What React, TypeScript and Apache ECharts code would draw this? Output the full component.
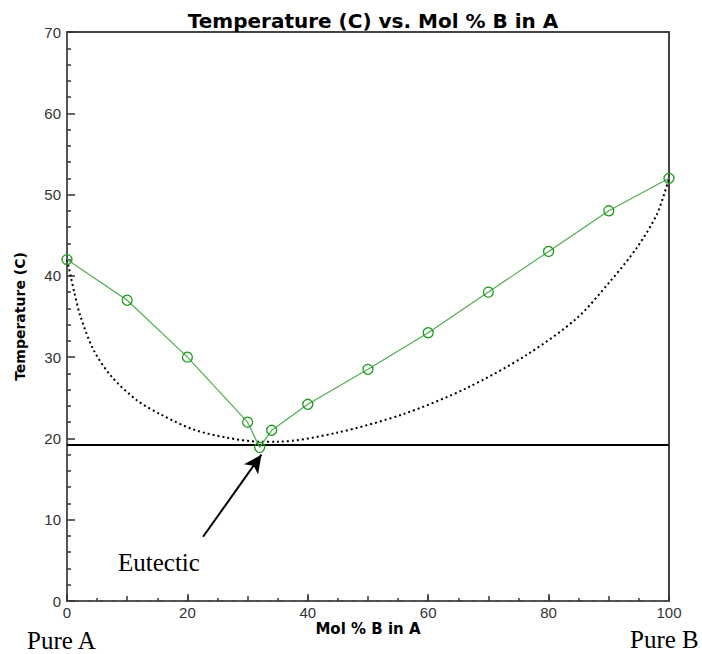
import React, { useEffect, useRef } from "react";
import * as echarts from "echarts";

const molB = [0, 10, 20, 30, 32, 34, 40, 50, 60, 70, 80, 90, 100];
const tempC = [42, 37, 30, 22, 18.9, 21, 24.2, 28.5, 33, 38, 43, 48, 52];

const idealX = [0, 0.6, 1.2, 2.2, 4.4, 7.4, 11.6, 15.7, 21, 26.5, 32, 35, 44.8, 55.9, 66.4, 76.4, 84.7, 90.2, 94.6, 98, 100];
const idealY = [42, 40, 38, 35.1, 30.9, 27.6, 24.7, 22.9, 21.1, 20.1, 19.6, 19.6, 20.7, 23, 26.2, 30.3, 34.8, 39.3, 43.4, 47.6, 52];

const eutecticT = 19.2;
const arrowFrom = [22.6, 7.9];
const arrowTo = [32.3, 18.0];

const xTicks = [0, 20, 40, 60, 80, 100];
const yTicks = [0, 10, 20, 30, 40, 50, 60, 70];

export default function App() {
  const ref = useRef<HTMLDivElement>(null);
  useEffect(() => {
    if (!ref.current) return;
    const chart = echarts.init(ref.current, null, { renderer: "svg" });
    const sans = "DejaVu Sans";
    const labelFont = "Liberation Sans";
    chart.setOption({
      animation: false,
      backgroundColor: "#fff",
      title: {
        text: "Temperature (C) vs. Mol % B in A",
        left: 368,
        top: 6,
        textAlign: "center",
        textStyle: { fontFamily: sans, fontWeight: "bold", fontSize: 20, color: "#000" },
      },
      grid: {
        left: 67,
        right: 33,
        top: 32,
        bottom: 53,
        show: true,
        borderColor: "#444",
        borderWidth: 2,
        backgroundColor: "transparent",
      },
      xAxis: [
        {
          type: "value",
          min: 0,
          max: 100,
          interval: 10,
          name: "Mol % B in A",
          nameLocation: "middle",
          nameGap: 20,
          nameTextStyle: { fontFamily: sans, fontWeight: "bold", fontSize: 15, color: "#000" },
          axisLine: { show: true, onZero: false, lineStyle: { color: "#555", width: 2, type: [9, 3] } },
          axisTick: { show: true, inside: true, length: 5, lineStyle: { color: "#333", width: 1.5 } },
          minorTick: { show: true, splitNumber: 2, length: 3, lineStyle: { color: "#333", width: 1.5 } },
          axisLabel: { show: false },
          splitLine: { show: false },
        },
        {
          type: "value",
          min: 0,
          max: 100,
          interval: 20,
          position: "bottom",
          axisLine: { show: false, onZero: false },
          axisTick: { show: true, inside: true, length: 7, lineStyle: { color: "#333", width: 1.5 } },
          axisLabel: {
            show: true,
            margin: 4,
            fontFamily: labelFont,
            fontSize: 15,
            color: "#333",
            formatter: (v: number) => (xTicks.includes(v) ? String(v) : ""),
          },
          splitLine: { show: false },
        },
      ],
      yAxis: {
        type: "value",
        min: 0,
        max: 70,
        interval: 10,
        name: "Temperature (C)",
        nameLocation: "middle",
        nameGap: 40,
        nameTextStyle: { fontFamily: sans, fontWeight: "bold", fontSize: 14, color: "#000" },
        axisLine: { show: true, onZero: false, lineStyle: { color: "#555", width: 2 } },
        axisTick: { show: true, inside: true, length: 8, lineStyle: { color: "#333", width: 1.5 } },
        minorTick: { show: true, splitNumber: 5, length: 4, lineStyle: { color: "#333", width: 1.5 } },
        axisLabel: {
          margin: 6,
          fontFamily: labelFont,
          fontSize: 15,
          color: "#333",
          formatter: (v: number) => (yTicks.includes(v) ? String(v) : ""),
        },
        splitLine: { show: false },
      },
      series: [
        {
          type: "line",
          name: "ideal",
          data: idealX.map((x, i) => [x, idealY[i]]),
          showSymbol: false,
          symbol: "none",
          smooth: 0.3,
          lineStyle: { color: "#000", width: 2, type: [2, 3] },
          silent: true,
        },
        {
          type: "line",
          name: "eutectic",
          data: [
            [0, eutecticT],
            [100, eutecticT],
          ],
          symbol: "none",
          lineStyle: { color: "#000", width: 2 },
          silent: true,
          markLine: {
            silent: true,
            symbol: ["none", "arrow"],
            symbolSize: [13, 18],
            label: { show: false },
            lineStyle: { color: "#000", width: 2, type: "solid" },
            data: [[{ coord: arrowFrom }, { coord: arrowTo }]],
          },
        },
        {
          type: "line",
          name: "measured",
          data: molB.map((x, i) => [x, tempC[i]]),
          symbol: "circle",
          symbolSize: 10,
          showAllSymbol: true,
          lineStyle: { color: "#4caf4c", width: 1.2 },
          itemStyle: { color: "rgba(0,0,0,0)", borderColor: "#1e9a1e", borderWidth: 1.3 },
          silent: true,
        },
      ],
      graphic: [
        {
          type: "text",
          style: { text: "Eutectic", x: 118, y: 575, verticalAlign: "bottom", font: '25px "Liberation Serif"', fill: "#000" },
        },
        {
          type: "text",
          style: { text: "Pure A", x: 27, y: 653, verticalAlign: "bottom", font: '25px "Liberation Serif"', fill: "#000" },
        },
        {
          type: "text",
          style: { text: "Pure B", x: 630, y: 652, verticalAlign: "bottom", font: '25px "Liberation Serif"', fill: "#000" },
        },
      ],
    });
    return () => chart.dispose();
  }, []);
  return <div ref={ref} style={{ position: "fixed", left: 0, top: 0, width: 702, height: 654 }} />;
}
